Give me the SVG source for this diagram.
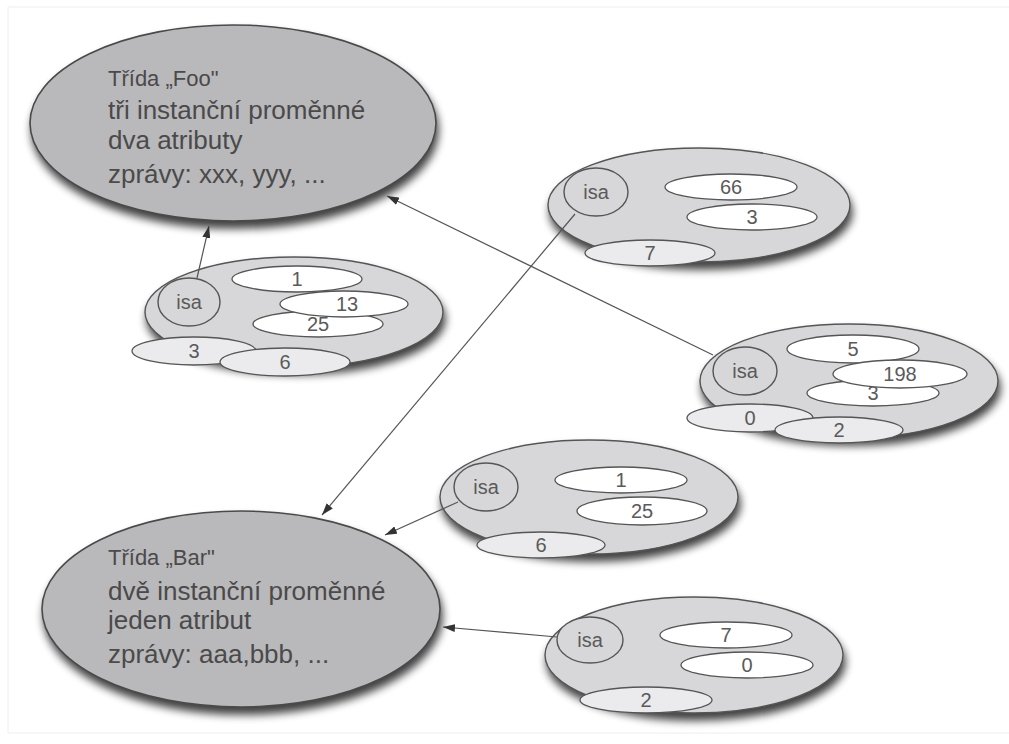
<svg xmlns="http://www.w3.org/2000/svg" width="1009" height="744" viewBox="0 0 1009 744">
<defs>
<filter id="sh" x="-20%" y="-20%" width="140%" height="160%" color-interpolation-filters="sRGB">
<feGaussianBlur in="SourceAlpha" stdDeviation="4.5"/>
<feOffset dx="2" dy="7" result="b"/>
<feComponentTransfer><feFuncA type="linear" slope="0.75"/></feComponentTransfer>
<feMerge><feMergeNode/><feMergeNode in="SourceGraphic"/></feMerge>
</filter>
<marker id="ah" viewBox="0 0 12 8" refX="12" refY="4" markerWidth="12" markerHeight="8" markerUnits="userSpaceOnUse" orient="auto">
<path d="M0,0 L12,4 L0,8 Z" fill="#333"/>
</marker>
<style>
.cls{fill:#b9b8ba;stroke:#4a4a4a;stroke-width:1.6}
.inst{fill:#d7d6d8;stroke:#555;stroke-width:1.4}
.isa{fill:#d7d6d8;stroke:#555;stroke-width:1.4}
.w{fill:#ffffff;stroke:#555;stroke-width:1.3}
.g{fill:#ebeaec;stroke:#555;stroke-width:1.3}
.ct{font-family:"Liberation Sans",Arial,sans-serif;font-size:26px;fill:#4a4a4a}
.ct1{font-size:22px}
.v{font-family:"Liberation Sans",Arial,sans-serif;font-size:20px;fill:#5a5a5a;text-anchor:middle}
.conn line{stroke:#555;stroke-width:1.2;marker-end:url(#ah)}
</style>
</defs>
<rect x="0" y="0" width="1009" height="744" fill="#ffffff"/>
<path d="M8,7 H1009 M8,7 V733 H1009" fill="none" stroke="#eeeeee" stroke-width="1"/>

<g id="class-foo">
<ellipse class="cls" cx="233" cy="123" rx="203" ry="98" filter="url(#sh)"/>
<text class="ct ct1" x="108" y="86">Třída „Foo"</text>
<text class="ct" x="108" y="119">tři instanční proměnné</text>
<text class="ct" x="108" y="149">dva atributy</text>
<text class="ct" x="108" y="183">zprávy: xxx, yyy, ...</text>
</g>

<g id="class-bar">
<ellipse class="cls" cx="241" cy="609" rx="199" ry="98" filter="url(#sh)"/>
<text class="ct ct1" x="108" y="565">Třída „Bar"</text>
<text class="ct" x="108" y="600">dvě instanční proměnné</text>
<text class="ct" x="108" y="629">jeden atribut</text>
<text class="ct" x="108" y="663">zprávy: aaa,bbb, ...</text>
</g>

<g id="foo-instance-1">
<ellipse class="inst" cx="294" cy="312" rx="149" ry="55" filter="url(#sh)"/>
<ellipse class="isa" cx="189" cy="302" rx="31" ry="24"/>
<text class="v" x="189" y="309">isa</text>
<ellipse class="w" cx="297" cy="279" rx="65" ry="13"/>
<text class="v" x="297" y="286">1</text>
<ellipse class="w" cx="318" cy="324" rx="65" ry="13"/>
<text class="v" x="318" y="331">25</text>
<ellipse class="w" cx="344" cy="304" rx="64" ry="13"/>
<text class="v" x="347" y="311">13</text>
<ellipse class="g" cx="194" cy="351" rx="62" ry="14"/>
<text class="v" x="194" y="358">3</text>
<ellipse class="g" cx="285" cy="362" rx="65" ry="14"/>
<text class="v" x="285" y="369">6</text>
</g>

<g id="foo-instance-2">
<ellipse class="inst" cx="699" cy="205" rx="151" ry="57" filter="url(#sh)"/>
<ellipse class="isa" cx="596" cy="192" rx="32" ry="24"/>
<text class="v" x="596" y="199">isa</text>
<ellipse class="w" cx="731" cy="187" rx="66" ry="13"/>
<text class="v" x="731" y="194">66</text>
<ellipse class="w" cx="752" cy="217" rx="65" ry="13"/>
<text class="v" x="752" y="224">3</text>
<ellipse class="g" cx="650" cy="253" rx="65" ry="13"/>
<text class="v" x="650" y="260">7</text>
</g>

<g id="foo-instance-3">
<ellipse class="inst" cx="849" cy="381" rx="149" ry="57" filter="url(#sh)"/>
<ellipse class="isa" cx="745" cy="371" rx="32" ry="24"/>
<text class="v" x="745" y="378">isa</text>
<ellipse class="w" cx="853" cy="349" rx="66" ry="14"/>
<text class="v" x="853" y="356">5</text>
<ellipse class="w" cx="873" cy="393" rx="66" ry="13"/>
<text class="v" x="873" y="400">3</text>
<ellipse class="w" cx="900" cy="374" rx="67" ry="14"/>
<text class="v" x="900" y="381">198</text>
<ellipse class="g" cx="750" cy="418" rx="63" ry="14"/>
<text class="v" x="750" y="425">0</text>
<ellipse class="g" cx="839" cy="430" rx="64" ry="13"/>
<text class="v" x="839" y="437">2</text>
</g>

<g id="bar-instance-1">
<ellipse class="inst" cx="589" cy="497" rx="149" ry="57" filter="url(#sh)"/>
<ellipse class="isa" cx="486" cy="487" rx="32" ry="24"/>
<text class="v" x="486" y="494">isa</text>
<ellipse class="w" cx="621" cy="480" rx="66" ry="13"/>
<text class="v" x="621" y="487">1</text>
<ellipse class="w" cx="642" cy="511" rx="65" ry="14"/>
<text class="v" x="642" y="518">25</text>
<ellipse class="g" cx="541" cy="545" rx="64" ry="13"/>
<text class="v" x="541" y="552">6</text>
</g>

<g id="bar-instance-2">
<ellipse class="inst" cx="694" cy="655" rx="149" ry="58" filter="url(#sh)"/>
<ellipse class="isa" cx="590" cy="640" rx="33" ry="23"/>
<text class="v" x="590" y="647">isa</text>
<ellipse class="w" cx="726" cy="635" rx="66" ry="13"/>
<text class="v" x="726" y="642">7</text>
<ellipse class="w" cx="747" cy="665" rx="66" ry="13"/>
<text class="v" x="747" y="672">0</text>
<ellipse class="g" cx="646" cy="700" rx="66" ry="13"/>
<text class="v" x="646" y="707">2</text>
</g>

<g id="connectors" class="conn">
<line x1="197" y1="278" x2="209" y2="226"/>
<line x1="713" y1="355" x2="387" y2="196"/>
<line x1="575" y1="214" x2="322" y2="515"/>
<line x1="458" y1="502" x2="385" y2="535"/>
<line x1="557" y1="637" x2="443" y2="627"/>
</g>
</svg>
